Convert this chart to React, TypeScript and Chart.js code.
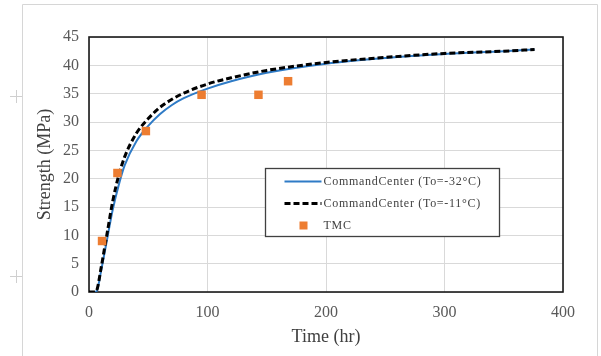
import React, { useEffect, useRef } from "react";
import { Chart, registerables } from "chart.js";

Chart.register(...registerables);

const timeHours = [0, 5, 7, 10, 15, 20, 25, 30, 40, 50, 60, 70, 80, 100, 120, 150, 200, 250, 300, 350, 376];
const strengthCold = [0, 0, 0.4, 3.5, 9, 14.5, 18.8, 22.3, 26.6, 29.3, 31.4, 33, 34.2, 35.9, 37.2, 38.7, 40.3, 41.3, 42, 42.5, 42.8];
const strengthWarm = [0, 0, 0.6, 4, 10, 16, 20.5, 23.8, 28, 30.6, 32.6, 34, 35.1, 36.7, 37.8, 39.1, 40.5, 41.4, 42.1, 42.5, 42.8];
const tmcTime = [11, 24, 48, 95, 143, 168];
const tmcStrength = [9, 21, 28.4, 34.8, 34.8, 37.2];

const labelCold = "CommandCenter (To=-32°C)";
const labelWarm = "CommandCenter (To=-11°C)";
const labelTmc = "TMC";

const BLUE = "#2f7bc6";
const ORANGE = "#ed7d31";
const SERIF = "'Liberation Serif', 'Times New Roman', serif";

const framePlugin = {
  id: "frame",
  beforeDraw(chart: any) {
    const { ctx, width, height } = chart;
    ctx.save();
    ctx.fillStyle = "#ffffff";
    ctx.fillRect(0, 0, width, height);
    ctx.strokeStyle = "#d6d6d6";
    ctx.lineWidth = 1;
    ctx.beginPath();
    ctx.moveTo(22.5, height);
    ctx.lineTo(22.5, 4.5);
    ctx.lineTo(597.5, 4.5);
    ctx.lineTo(597.5, height);
    ctx.stroke();
    ctx.strokeStyle = "#cfcfcf";
    [96, 276].forEach((y) => {
      ctx.beginPath();
      ctx.moveTo(10, y + 0.5);
      ctx.lineTo(22, y + 0.5);
      ctx.moveTo(16.5, y - 6);
      ctx.lineTo(16.5, y + 7);
      ctx.stroke();
    });
    ctx.restore();
  },
  beforeDatasetsDraw(chart: any) {
    const { ctx, chartArea: a } = chart;
    ctx.save();
    ctx.strokeStyle = "#1a1a1a";
    ctx.lineWidth = 1.6;
    ctx.strokeRect(a.left, a.top, a.right - a.left, a.bottom - a.top);
    ctx.restore();
  },
  afterDraw(chart: any) {
    const { ctx, chartArea: a } = chart;
    const x0 = a.left + 176.5;
    const y0 = a.top + 131.5;
    const w = 234;
    const h = 68;
    ctx.save();
    ctx.fillStyle = "#ffffff";
    ctx.fillRect(x0, y0, w, h);
    ctx.strokeStyle = "#404040";
    ctx.lineWidth = 1.3;
    ctx.strokeRect(x0, y0, w, h);
    const rows = [y0 + 13, y0 + 35, y0 + 57];
    const sx1 = x0 + 19;
    const sx2 = x0 + 56;
    ctx.strokeStyle = BLUE;
    ctx.lineWidth = 2;
    ctx.beginPath();
    ctx.moveTo(sx1, rows[0]);
    ctx.lineTo(sx2, rows[0]);
    ctx.stroke();
    ctx.strokeStyle = "#000000";
    ctx.lineWidth = 3;
    ctx.setLineDash([6, 3]);
    ctx.beginPath();
    ctx.moveTo(sx1, rows[1]);
    ctx.lineTo(sx2, rows[1]);
    ctx.stroke();
    ctx.setLineDash([]);
    ctx.fillStyle = ORANGE;
    ctx.fillRect(x0 + 34, rows[2] - 4, 8, 8);
    ctx.fillStyle = "#404040";
    ctx.font = "12px " + SERIF;
    (ctx as any).letterSpacing = "0.7px";
    ctx.textBaseline = "middle";
    ctx.textAlign = "left";
    ctx.fillText(labelCold, x0 + 58, rows[0]);
    ctx.fillText(labelWarm, x0 + 58, rows[1]);
    ctx.fillText(labelTmc, x0 + 58, rows[2]);
    ctx.restore();
  },
};

export default function App() {
  const ref = useRef<HTMLCanvasElement>(null);
  useEffect(() => {
    document.body.style.margin = "0";
    const toXY = (xs: number[], ys: number[]) => xs.map((x, i) => ({ x, y: ys[i] }));
    const chart = new Chart(ref.current!, {
      type: "scatter",
      data: {
        datasets: [
          {
            label: labelTmc,
            data: toXY(tmcTime, tmcStrength),
            pointStyle: "rect",
            pointRadius: 6,
            backgroundColor: ORANGE,
            borderColor: ORANGE,
            borderWidth: 0,
            showLine: false,
            order: 0,
          },
          {
            label: labelWarm,
            data: toXY(timeHours, strengthWarm),
            showLine: true,
            borderColor: "#000000",
            borderWidth: 3,
            borderDash: [6, 3],
            pointRadius: 0,
            cubicInterpolationMode: "monotone",
            order: 1,
          },
          {
            label: labelCold,
            data: toXY(timeHours, strengthCold),
            showLine: true,
            borderColor: BLUE,
            borderWidth: 2,
            pointRadius: 0,
            cubicInterpolationMode: "monotone",
            order: 2,
          },
        ],
      },
      options: {
        animation: false,
        responsive: false,
        layout: { padding: { left: 22, top: 37, right: 38, bottom: 0 } },
        plugins: { legend: { display: false }, tooltip: { enabled: false } },
        scales: {
          x: {
            type: "linear",
            min: 0,
            max: 400,
            afterFit: (s: any) => { s.height = 64; },
            ticks: { stepSize: 100, padding: 11, color: "#595959", font: { family: SERIF, size: 16 } },
            grid: { color: "#d9d9d9", drawTicks: false, lineWidth: 1 },
            border: { display: false },
            title: { display: true, text: "Time (hr)", color: "#404040", font: { family: SERIF, size: 18 }, padding: { bottom: 8, top: 0 } },
          },
          y: {
            min: 0,
            max: 45,
            afterFit: (s: any) => { s.width = 67; },
            ticks: { stepSize: 5, padding: 10, color: "#595959", font: { family: SERIF, size: 16 } },
            grid: { color: "#d9d9d9", drawTicks: false, lineWidth: 1 },
            border: { display: false },
            title: { display: true, text: "Strength (MPa)", color: "#404040", font: { family: SERIF, size: 18 }, padding: { top: 12, bottom: 0 } },
          },
        },
      },
      plugins: [framePlugin],
    } as any);
    return () => chart.destroy();
  }, []);
  return <canvas ref={ref} width={601} height={356} style={{ display: "block" }} />;
}
